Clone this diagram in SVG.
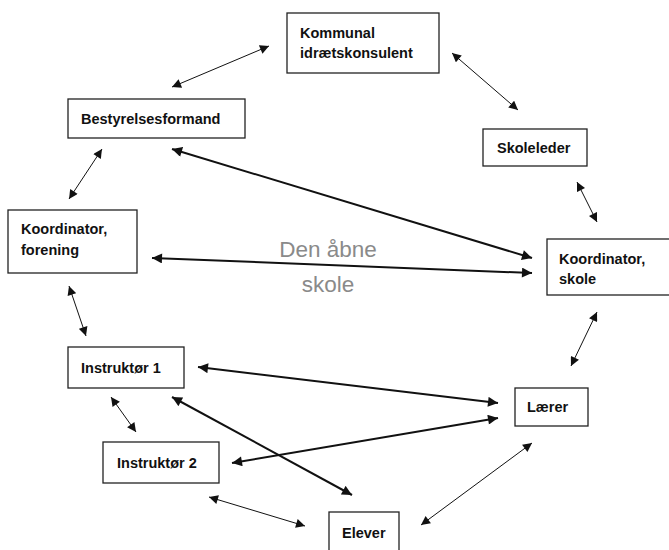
<svg xmlns="http://www.w3.org/2000/svg" width="669" height="550" viewBox="0 0 669 550">
<style>
.box{fill:#fff;stroke:#222;stroke-width:1.3}
.lbl{font-family:"Liberation Sans",Arial,sans-serif;font-weight:bold;font-size:14.5px;fill:#111}
.thin{stroke:#111;stroke-width:1;fill:none;marker-start:url(#ah);marker-end:url(#ah)}
.thick{stroke:#111;stroke-width:2;fill:none;marker-start:url(#ah2);marker-end:url(#ah2)}
.bg{font-family:"Liberation Sans",Arial,sans-serif;font-size:22.5px;fill:#8a8a8a}
</style>
<defs>
<marker id="ah" viewBox="0 0 10 10" refX="10" refY="5" markerWidth="10" markerHeight="9" markerUnits="userSpaceOnUse" orient="auto-start-reverse"><path d="M0,0 L10,5 L0,10 z" fill="#111"/></marker>
<marker id="ah2" viewBox="0 0 10 10" refX="10" refY="5" markerWidth="11" markerHeight="10" markerUnits="userSpaceOnUse" orient="auto-start-reverse"><path d="M0,0 L10,5 L0,10 z" fill="#111"/></marker>
</defs>
<rect width="669" height="550" fill="#fff"/>
<text class="bg" x="328" y="257" text-anchor="middle">Den åbne</text>
<text class="bg" x="328" y="292" text-anchor="middle">skole</text>
<g id="connectors">
<line class="thin" x1="172" y1="87" x2="269" y2="46"/>
<line class="thin" x1="452" y1="53" x2="518" y2="110"/>
<line class="thin" x1="69" y1="199" x2="102" y2="149"/>
<line class="thin" x1="577" y1="182" x2="597" y2="222"/>
<line class="thick" x1="172" y1="149" x2="532" y2="258"/>
<line class="thick" x1="152" y1="258" x2="532" y2="273"/>
<line class="thin" x1="69" y1="286" x2="86" y2="336"/>
<line class="thin" x1="597" y1="312" x2="571" y2="366"/>
<line class="thick" x1="198" y1="367" x2="498" y2="403"/>
<line class="thick" x1="172" y1="397" x2="352" y2="495"/>
<line class="thick" x1="232" y1="463" x2="498" y2="418"/>
<line class="thin" x1="111" y1="397" x2="136" y2="432"/>
<line class="thin" x1="209" y1="497" x2="305" y2="526"/>
<line class="thin" x1="532" y1="443" x2="421" y2="525"/>
</g>
<g id="kommunal"><rect class="box" x="287" y="13" width="152" height="60"/><text class="lbl" x="300" y="38">Kommunal</text><text class="lbl" x="300" y="58">idrætskonsulent</text></g>
<g id="bestyrelsesformand"><rect class="box" x="68" y="99" width="177" height="39"/><text class="lbl" x="81" y="124">Bestyrelsesformand</text></g>
<g id="skoleleder"><rect class="box" x="483" y="129" width="104" height="37"/><text class="lbl" x="497" y="153">Skoleleder</text></g>
<g id="koord-forening"><rect class="box" x="8" y="210" width="129" height="63"/><text class="lbl" x="21" y="234">Koordinator,</text><text class="lbl" x="21" y="255">forening</text></g>
<g id="koord-skole"><rect class="box" x="547" y="239" width="130" height="56"/><text class="lbl" x="559" y="264">Koordinator,</text><text class="lbl" x="559" y="284">skole</text></g>
<g id="instruktor1"><rect class="box" x="68" y="347" width="116" height="41"/><text class="lbl" x="81" y="373">Instruktør 1</text></g>
<g id="laerer"><rect class="box" x="515" y="388" width="73" height="38"/><text class="lbl" x="527" y="412">Lærer</text></g>
<g id="instruktor2"><rect class="box" x="103" y="442" width="116" height="41"/><text class="lbl" x="117" y="468">Instruktør 2</text></g>
<g id="elever"><rect class="box" x="329" y="512" width="70" height="45"/><text class="lbl" x="342" y="538">Elever</text></g>
</svg>
